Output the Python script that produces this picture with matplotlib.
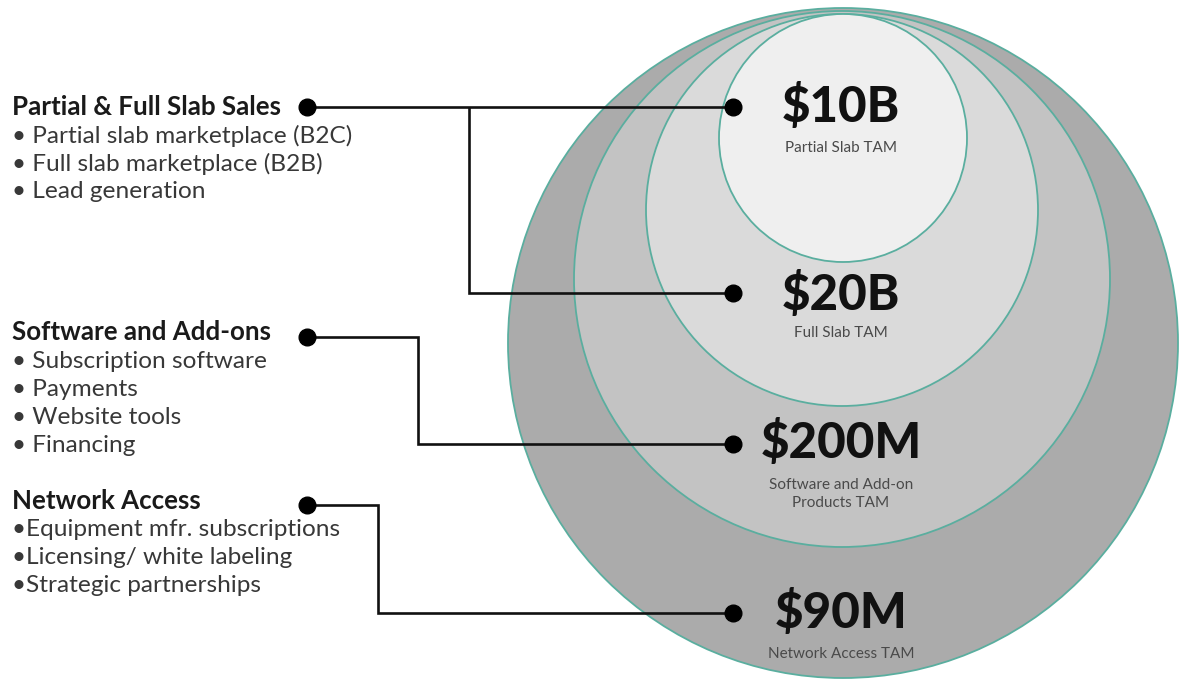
import matplotlib
matplotlib.use("Agg")
import matplotlib.pyplot as plt
from matplotlib.patches import Circle

# ---------------- data ----------------
tam_values = ["$10B", "$20B", "$200M", "$90M"]
tam_labels = ["Partial Slab TAM", "Full Slab TAM", "Software and Add-on\nProducts TAM", "Network Access TAM"]

section_titles = ["Partial & Full Slab Sales", "Software and Add-ons", "Network Access"]
section_bullets = [
    ["• Partial slab marketplace (B2C)", "• Full slab marketplace (B2B)", "• Lead generation"],
    ["• Subscription software", "• Payments", "• Website tools", "• Financing"],
    ["•Equipment mfr. subscriptions", "•Licensing/ white labeling", "•Strategic partnerships"],
]

# ---------------- layout (pixel coords) ----------------
W, H = 1185, 681
# circles drawn from largest to smallest: (cx, cy, r, fill)
circles = [
    (843, 343, 335, "#ababab"),
    (842, 279, 268, "#c3c3c3"),
    (842, 210, 196, "#dadada"),
    (843, 138, 124, "#efefef"),
]
edge_col = "#5aae9f"

value_y = [107, 295, 442, 612]
label_y = [148, 333, 494, 654]

fig = plt.figure(figsize=(W / 100, H / 100), dpi=100)
ax = fig.add_axes([0, 0, 1, 1])
ax.set_xlim(0, W)
ax.set_ylim(H, 0)
ax.set_aspect("equal")
ax.axis("off")

for cx, cy, r, fc in circles:
    ax.add_patch(Circle((cx, cy), r, facecolor=fc, edgecolor=edge_col, lw=1.3, zorder=1))

big_font = dict(family=["Lato", "DejaVu Sans"], weight="black", color="#111111")
small_font = dict(family=["Lato", "DejaVu Sans"], color="#4a4a4a")

for v, lab, vy, ly in zip(tam_values, tam_labels, value_y, label_y):
    ax.text(841, vy, v, ha="center", va="center", fontsize=35.5, zorder=5, **big_font)
    ax.text(841, ly, lab, ha="center", va="center", fontsize=11, linespacing=1.45, zorder=5, **small_font)

# connectors
line_kw = dict(color="#111111", lw=1.9, zorder=3, solid_capstyle="butt", solid_joinstyle="miter")
dot_kw = dict(marker="o", markersize=12, color="#000000", linestyle="none", zorder=4)

# section 1: dot -> $10B, branch -> $20B
ax.plot([307, 733], [107, 107], **line_kw)
ax.plot([469, 469, 733], [107, 293, 293], **line_kw)
ax.plot([307, 733, 733], [107, 107, 293], **dot_kw)
# section 2
ax.plot([307, 418, 418, 733], [337, 337, 444, 444], **line_kw)
ax.plot([307, 733], [337, 444], **dot_kw)
# section 3
ax.plot([307, 378, 378, 733], [505, 505, 613, 613], **line_kw)
ax.plot([307, 733], [505, 613], **dot_kw)

# left text blocks
title_y = [107, 332, 501]
bullet_gap = 28
title_font = dict(family=["Lato", "DejaVu Sans"], weight="bold", color="#1a1a1a")
bullet_font = dict(family=["Lato", "DejaVu Sans"], color="#383838")
for t, bullets, ty in zip(section_titles, section_bullets, title_y):
    ax.text(12, ty, t, ha="left", va="center", fontsize=18.6, **title_font)
    for i, b in enumerate(bullets):
        ax.text(12, ty + bullet_gap * (i + 1) + 1, b, ha="left", va="center", fontsize=17.6, **bullet_font)

fig.savefig("out.png", dpi=100)
